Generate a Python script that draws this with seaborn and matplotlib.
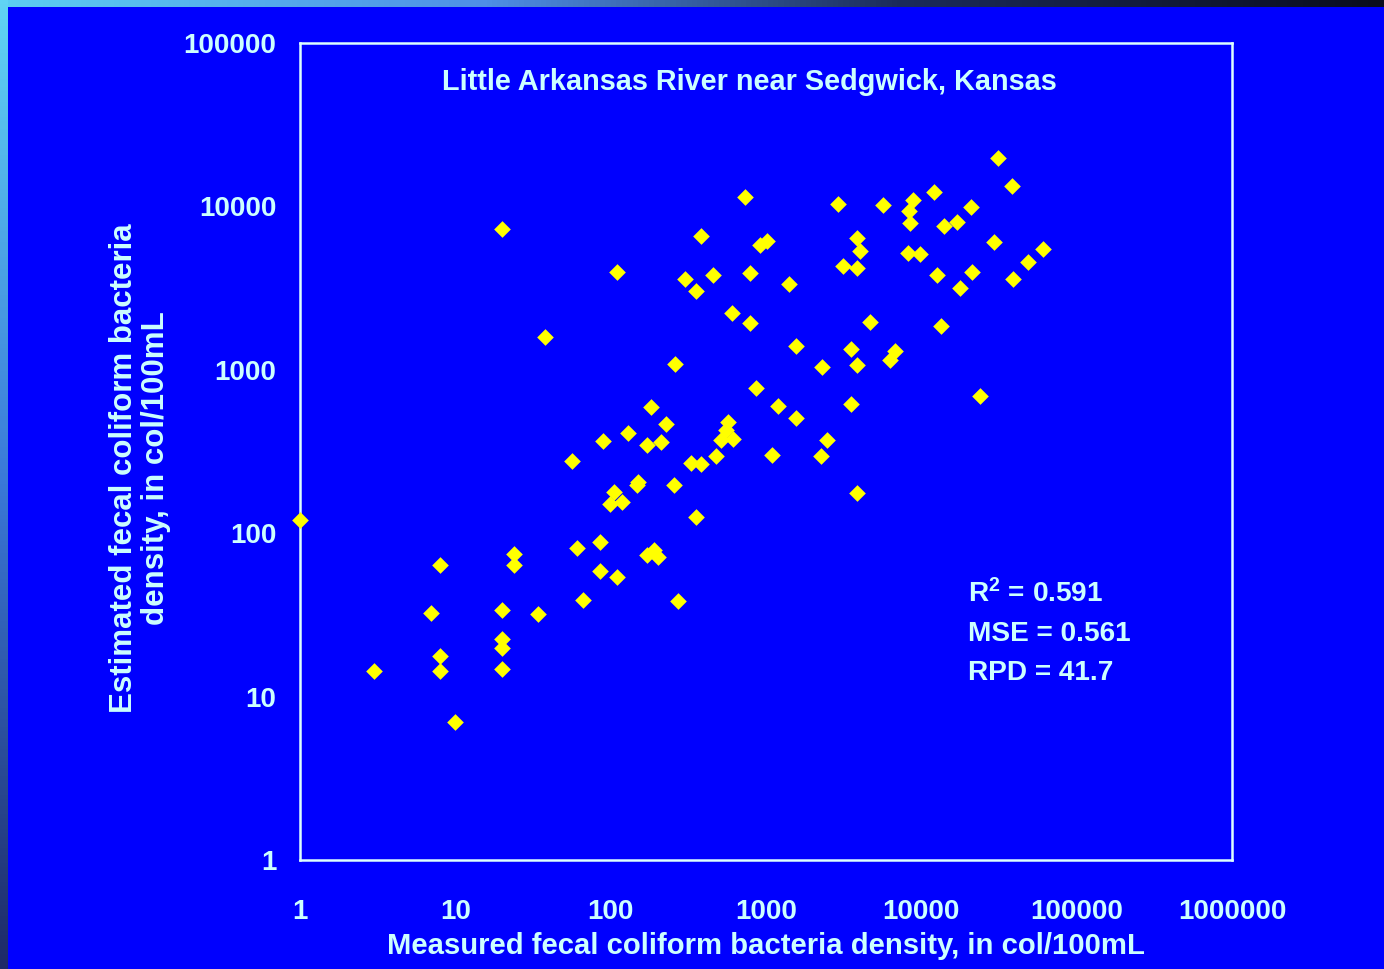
import numpy as np
import pandas as pd
import matplotlib
matplotlib.use("Agg")
import matplotlib.pyplot as plt
import seaborn as sns

# ---- data ----
measured = [1, 3.0, 7.0, 8.0, 8.0, 8.0, 10, 20, 20, 20, 20, 20, 24, 24, 34, 38, 56, 61, 66, 85,
            85, 89, 110, 110, 99, 105, 118, 129, 148, 150, 171, 182, 171, 190, 202, 211, 227, 260, 256, 272,
            301, 329, 355, 355, 382, 382, 456, 477, 514, 553, 570, 614, 605, 733, 790, 790, 863, 916, 1016, 1095,
            1197, 1409, 1563, 1563, 2264, 2297, 2473, 2911, 3135, 3532, 3532, 3860, 3860, 3860, 3860, 4035, 4680, 5675, 6300, 6780,
            8220, 8470, 8300, 8850, 9820, 12080, 12640, 13400, 14020, 16990, 17780, 20930, 21240, 31200, 38450, 29430, 60860, 48700, 39000, 23900]
estimated = [120, 14.3, 32.5, 64, 17.7, 14.3, 7.0, 7270, 34, 22.5, 19.8, 14.8, 75, 64, 32, 1590, 277, 81, 39, 88,
             59, 367, 3970, 54, 151, 179, 155, 410, 197, 207, 347, 592, 73.5, 79, 71.5, 361, 466, 1085, 197, 38.5,
             3595, 269, 3035, 126, 6590, 265, 3800, 297, 372, 428, 479, 377, 2227, 11420, 3910, 1934, 774, 5800, 6140, 301,
             600, 3350, 1399, 507, 297, 1040, 372, 10350, 4317, 1341, 618, 6410, 4197, 1070, 176, 5330, 1963, 10200, 1148, 1303,
             5190, 7910, 9370, 10940, 5110, 12250, 3800, 1854, 7590, 8030, 3170, 9910, 3970, 19780, 13330, 6050, 5490, 4570, 3595, 691]

x_ticks = [1, 10, 100, 1000, 10000, 100000, 1000000]
x_tick_labels = ["1", "10", "100", "1000", "10000", "100000", "1000000"]
y_ticks = [1, 10, 100, 1000, 10000, 100000]
y_tick_labels = ["1", "10", "100", "1000", "10000", "100000"]

title = "Little Arkansas River near Sedgwick, Kansas"
xlabel = "Measured fecal coliform bacteria density, in col/100mL"
ylabel = "Estimated fecal coliform bacteria\ndensity, in col/100mL"
stats = ["R$^2$ = 0.591", "MSE = 0.561", "RPD = 41.7"]

df = pd.DataFrame({"measured": measured, "estimated": estimated})

# ---- style ----
BG = "#0000FE"
TXT = "#CCFFFF"
sns.set_theme(style="white")
plt.rcParams["font.family"] = ["Liberation Sans", "DejaVu Sans"]
plt.rcParams["font.weight"] = "bold"
plt.rcParams["mathtext.fontset"] = "custom"
plt.rcParams["mathtext.rm"] = "Liberation Sans:bold"
plt.rcParams["mathtext.it"] = "Liberation Sans:bold"
plt.rcParams["mathtext.bf"] = "Liberation Sans:bold"

W, H = 1384, 969
fig = plt.figure(figsize=(W / 100, H / 100), dpi=100, facecolor=BG)

# gradient border strips
top = fig.add_axes([0, 1 - 7 / H, 1, 7 / H])
grad_h = np.linspace(0, 1, 256)[None, :]
cm_top = matplotlib.colors.LinearSegmentedColormap.from_list(
    "t", [(0, "#5ccdf2"), (0.35, "#4f8fe6"), (0.65, "#1c2c5a"), (1, "#0a0d1e")])
top.imshow(grad_h, aspect="auto", cmap=cm_top, extent=[0, 1, 0, 1])
top.set_axis_off()
left = fig.add_axes([0, 0, 8 / W, 1])
grad_v = np.linspace(1, 0, 256)[:, None]
cm_left = matplotlib.colors.LinearSegmentedColormap.from_list(
    "l", [(0, "#1e2a66"), (0.5, "#3a78d8"), (1, "#60d4f4")])
left.imshow(grad_v, aspect="auto", cmap=cm_left, extent=[0, 1, 0, 1])
left.set_axis_off()

ax = fig.add_axes([300 / W, 1 - 860 / H, 932 / W, 817 / H])
ax.set_facecolor(BG)
sns.scatterplot(data=df, x="measured", y="estimated", marker="D", color="#FFFF00",
                s=72, linewidth=0, ax=ax, zorder=3, clip_on=False)
ax.set_xscale("log")
ax.set_yscale("log")
ax.set_xlim(1, 1e6)
ax.set_ylim(1, 1e5)
ax.set_xticks(x_ticks)
ax.set_xticklabels(x_tick_labels)
ax.set_yticks(y_ticks)
ax.set_yticklabels(y_tick_labels)
ax.minorticks_off()
ax.set_xlabel("")
ax.set_ylabel("")
for sp in ax.spines.values():
    sp.set_visible(True)
    sp.set_color("#DDFFFF")
    sp.set_linewidth(1.8)
ax.tick_params(axis="both", which="major", direction="out", length=7, width=1.2,
               color="#DDFFFF", labelcolor=TXT, labelsize=20)
ax.tick_params(axis="x", pad=21)
ax.tick_params(axis="y", pad=10)
for lab in ax.get_xticklabels() + ax.get_yticklabels():
    lab.set_fontweight("bold")

ax.text(0.482, 0.952, title, transform=ax.transAxes, ha="center", va="center",
        color=TXT, fontsize=20.8, fontweight="bold")
for i, s in enumerate(stats):
    ax.text(0.717, 0.3256 - i * 0.0484, s, transform=ax.transAxes, ha="left", va="center",
            color=TXT, fontsize=20.2, fontweight="bold")

fig.text(766 / W, 1 - 946 / H, xlabel, ha="center", va="center", color=TXT,
         fontsize=21.1, fontweight="bold")
fig.text(140 / W, 1 - 468 / H, ylabel, ha="center", va="center", rotation=90,
         multialignment="center", color=TXT, fontsize=22.5, fontweight="bold", linespacing=1.08)

fig.savefig("out.png", dpi=100, facecolor=BG)
